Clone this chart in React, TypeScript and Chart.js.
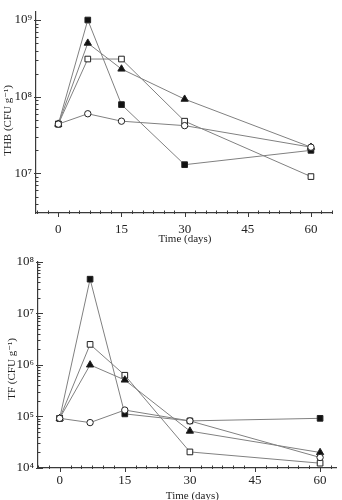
import { useEffect, useRef } from "react";
import { Chart, registerables } from "chart.js";

Chart.register(...registerables);

// Sampling days
const days = [0, 7, 15, 30, 60];
const dayTicks = [0, 15, 30, 45, 60];

// Total heterotrophic bacteria (CFU g-1)
const thbFilledSquare = [4.4e7, 1.0e9, 7.9e7, 1.3e7, 2.0e7];
const thbFilledTriangle = [4.4e7, 5.0e8, 2.3e8, 9.3e7, 2.2e7];
const thbOpenSquare = [4.4e7, 3.1e8, 3.1e8, 4.8e7, 9.1e6];
const thbOpenCircle = [4.4e7, 6.0e7, 4.8e7, 4.2e7, 2.2e7];
const thbDecades = [1e7, 1e8, 1e9];

// Total fungi (CFU g-1)
const tfFilledSquare = [9.2e4, 4.6e7, 1.12e5, 8.2e4, 9.2e4];
const tfFilledTriangle = [9.2e4, 1.0e6, 5.1e5, 5.2e4, 2.0e4];
const tfOpenSquare = [9.2e4, 2.5e6, 6.3e5, 2.05e4, 1.24e4];
const tfOpenCircle = [9.2e4, 7.6e4, 1.33e5, 8.2e4, 1.6e4];
const tfDecades = [1e4, 1e5, 1e6, 1e7, 1e8];

const SERIF = "'Liberation Serif', 'DejaVu Serif', serif";
const AXIS = "#3a3a3a";
const LINE = "#808080";
const SUP = ["⁰", "¹", "²", "³", "⁴", "⁵", "⁶", "⁷", "⁸", "⁹"];

const decadeLabel = (v: number) => "10" + SUP[Math.round(Math.log10(v))];

// Log-axis minor ticks, x-axis minor ticks and the axis titles
const axisDecor = {
  id: "axisDecor",
  afterDraw(chart: any, _args: any, opts: any) {
    const { ctx, chartArea, scales } = chart;
    const xs = scales.x;
    const ys = scales.y;
    ctx.save();
    ctx.strokeStyle = AXIS;
    ctx.lineWidth = 1;
    const lo = Math.floor(Math.log10(ys.min));
    const hi = Math.ceil(Math.log10(ys.max));
    for (let e = lo; e <= hi; e++) {
      for (let k = 1; k <= 9; k++) {
        const v = k * Math.pow(10, e);
        if (v < ys.min * 0.999 || v > ys.max * 1.001) continue;
        const py = Math.round(ys.getPixelForValue(v)) + 0.5;
        ctx.beginPath();
        if (k === 1) {
          ctx.moveTo(chartArea.left - 2, py);
          ctx.lineTo(chartArea.left + 5, py);
        } else {
          ctx.moveTo(chartArea.left, py);
          ctx.lineTo(chartArea.left + 2.5, py);
        }
        ctx.stroke();
      }
    }
    const step = 2.5;
    for (let v = Math.ceil(xs.min / step) * step; v <= xs.max; v += step) {
      const px = Math.round(xs.getPixelForValue(v)) + 0.5;
      const major = Math.abs(v % 15) < 1e-6;
      ctx.beginPath();
      if (major) {
        ctx.moveTo(px, chartArea.bottom - 1);
        ctx.lineTo(px, chartArea.bottom + 4);
      } else {
        ctx.moveTo(px, chartArea.bottom - 2.5);
        ctx.lineTo(px, chartArea.bottom + 1);
      }
      ctx.stroke();
    }

    ctx.fillStyle = "#222";
    ctx.font = `11px ${SERIF}`;
    ctx.textAlign = "center";
    ctx.textBaseline = "middle";
    const cx = (chartArea.left + chartArea.right) / 2 + opts.xTitleDx;
    ctx.fillText(opts.xTitle, cx, chartArea.bottom + opts.xTitleDy);

    ctx.translate(chartArea.left + opts.yTitleDx, (chartArea.top + chartArea.bottom) / 2 + opts.yTitleDy);
    ctx.rotate(-Math.PI / 2);
    ctx.fillText(opts.yTitle, 0, 0);
    ctx.restore();
  },
};

type Panel = {
  yMin: number;
  yMax: number;
  xMin: number;
  xMax: number;
  decades: number[];
  series: { values: number[]; style: string; filled: boolean; order: number }[];
  padTop: number;
  padRight: number;
  yWidth: number;
  xHeight: number;
  xLabelPad: number;
  yTitle: string;
  yTitleDx: number;
  yTitleDy: number;
  xTitleDx: number;
  xTitleDy: number;
};

function buildChart(canvas: HTMLCanvasElement, p: Panel) {
  return new Chart(canvas, {
    type: "line",
    data: {
      datasets: p.series.map((s) => ({
        data: days.map((d, i) => ({ x: d, y: s.values[i] })),
        borderColor: LINE,
        borderWidth: 1,
        tension: 0,
        pointStyle: s.style,
        pointRadius: s.style === "rect" ? 4 : s.style === "triangle" ? 4.2 : 3.2,
        pointBorderWidth: 1,
        pointBorderColor: "#222",
        pointBackgroundColor: s.filled ? "#111" : "#fff",
        order: s.order,
      })),
    },
    options: {
      responsive: false,
      animation: false,
      events: [],
      layout: { padding: { top: p.padTop, right: p.padRight, left: 0, bottom: 0 } },
      plugins: {
        legend: { display: false },
        tooltip: { enabled: false },
        axisDecor: {
          xTitle: "Time (days)",
          yTitle: p.yTitle,
          xTitleDx: p.xTitleDx,
          xTitleDy: p.xTitleDy,
          yTitleDx: p.yTitleDx,
          yTitleDy: p.yTitleDy,
        },
      } as any,
      scales: {
        x: {
          type: "linear",
          min: p.xMin,
          max: p.xMax,
          afterBuildTicks: (s: any) => {
            s.ticks = dayTicks.map((v) => ({ value: v }));
          },
          afterFit: (s: any) => {
            s.height = p.xHeight;
          },
          grid: { display: false, drawTicks: false },
          border: { display: true, color: AXIS, width: 1.2 },
          ticks: {
            autoSkip: false,
            maxRotation: 0,
            padding: p.xLabelPad,
            color: "#222",
            font: { family: SERIF, size: 13 },
            callback: (v: any) => String(v),
          },
        },
        y: {
          type: "logarithmic",
          min: p.yMin,
          max: p.yMax,
          afterBuildTicks: (s: any) => {
            s.ticks = p.decades.map((v) => ({ value: v }));
          },
          afterFit: (s: any) => {
            s.width = p.yWidth;
          },
          grid: { display: false, drawTicks: false },
          border: { display: true, color: AXIS, width: 1.2 },
          ticks: {
            autoSkip: false,
            padding: 4,
            color: "#222",
            font: { family: SERIF, size: 13 },
            callback: (v: any) => decadeLabel(Number(v)),
          },
        },
      },
    },
    plugins: [axisDecor],
  } as any);
}

const thbPanel: Panel = {
  yMin: 3.05e6,
  yMax: 1.28e9,
  xMin: -5.3,
  xMax: 65,
  decades: thbDecades,
  series: [
    { values: thbOpenCircle, style: "circle", filled: false, order: 0 },
    { values: thbFilledSquare, style: "rect", filled: true, order: 1 },
    { values: thbFilledTriangle, style: "triangle", filled: true, order: 2 },
    { values: thbOpenSquare, style: "rect", filled: false, order: 3 },
  ],
  padTop: 3,
  padRight: 10,
  yWidth: 36,
  xHeight: 37,
  xLabelPad: 9,
  yTitle: "THB (CFU g⁻¹)",
  yTitleDx: -27.5,
  yTitleDy: 8,
  xTitleDx: 1,
  xTitleDy: 26.5,
};

const tfPanel: Panel = {
  yMin: 1e4,
  yMax: 1e8,
  xMin: -5,
  xMax: 63.85,
  decades: tfDecades,
  series: [
    { values: tfOpenCircle, style: "circle", filled: false, order: 0 },
    { values: tfFilledSquare, style: "rect", filled: true, order: 1 },
    { values: tfFilledTriangle, style: "triangle", filled: true, order: 2 },
    { values: tfOpenSquare, style: "rect", filled: false, order: 3 },
  ],
  padTop: 4,
  padRight: 0,
  yWidth: 38,
  xHeight: 32,
  xLabelPad: 4.5,
  yTitle: "TF (CFU g⁻¹)",
  yTitleDx: -26,
  yTitleDy: 4,
  xTitleDx: 5,
  xTitleDy: 28,
};

function PanelChart({ panel }: { panel: Panel }) {
  const ref = useRef<HTMLCanvasElement | null>(null);
  useEffect(() => {
    if (!ref.current) return;
    const chart = buildChart(ref.current, panel);
    return () => chart.destroy();
  }, [panel]);
  return <canvas ref={ref} width={342} height={250} style={{ display: "block" }} />;
}

export default function App() {
  return (
    <div
      style={{
        position: "absolute",
        left: 0,
        top: 0,
        width: 342,
        height: 500,
        background: "#fff",
        overflow: "hidden",
      }}
    >
      <PanelChart panel={thbPanel} />
      <PanelChart panel={tfPanel} />
    </div>
  );
}
